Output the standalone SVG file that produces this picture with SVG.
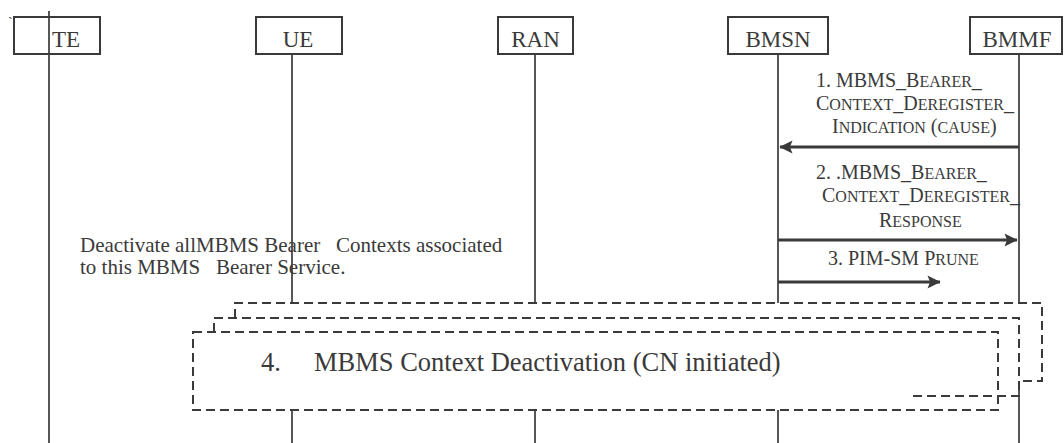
<svg xmlns="http://www.w3.org/2000/svg" width="1064" height="443" viewBox="0 0 1064 443" font-family="'Liberation Serif', 'Times New Roman', 'DejaVu Serif', serif">
<style>
.box{fill:#fff;stroke:#3a3a3a;stroke-width:2}
.life{stroke:#3a3a3a;stroke-width:1.7;fill:none}
.msg{stroke:#3a3a3a;stroke-width:3;fill:none}
.dash{stroke:#3a3a3a;stroke-width:2;fill:none;stroke-dasharray:9 5}
.lbl{font-size:23px;fill:#3a3a3a}
.sc{font-size:20px;fill:#3a3a3a}
.s{font-size:16px}
.note{font-size:21px;fill:#3a3a3a;white-space:pre}
.big{font-size:26.5px;fill:#3a3a3a;white-space:pre}
</style>
<defs>
<marker id="ah" viewBox="0 0 10 10" refX="9.5" refY="5" markerWidth="5" markerHeight="4.4" orient="auto" markerUnits="strokeWidth">
<path d="M0,0 L10,5 L0,10 L2,5 z" fill="#3a3a3a"/>
</marker>
</defs>
<rect width="1064" height="443" fill="#fff"/>
<g id="connectors">
<line class="life" x1="49" y1="11" x2="49" y2="443"/>
<line class="life" x1="292" y1="54" x2="292" y2="303"/>
<line class="life" x1="292" y1="410" x2="292" y2="443"/>
<line class="life" x1="535" y1="54" x2="535" y2="303"/>
<line class="life" x1="535" y1="410" x2="535" y2="443"/>
<line class="life" x1="778" y1="54" x2="778" y2="303"/>
<line class="life" x1="778" y1="410" x2="778" y2="443"/>
<line class="life" x1="1019" y1="54" x2="1019" y2="303"/>
<line class="life" x1="1019" y1="383" x2="1019" y2="443"/>
<line class="msg" x1="1019" y1="147" x2="780" y2="147" marker-end="url(#ah)"/>
<line class="msg" x1="778" y1="240" x2="1017" y2="240" marker-end="url(#ah)"/>
<line class="msg" x1="778" y1="282" x2="940" y2="282" marker-end="url(#ah)"/>
</g>
<g id="TE">
<rect class="box" x="14" y="17" width="86" height="37" style="fill:none"/>
<text class="lbl" x="52" y="47">TE</text>
<text class="lbl" x="8" y="27" style="font-size:14px">`</text>
</g>
<g id="UE">
<rect class="box" x="256" y="17" width="86" height="37"/>
<text class="lbl" x="298" y="47" text-anchor="middle">UE</text>
</g>
<g id="RAN">
<rect class="box" x="498" y="17" width="75" height="37"/>
<text class="lbl" x="535.5" y="47" text-anchor="middle">RAN</text>
</g>
<g id="BMSN">
<rect class="box" x="728" y="17" width="100" height="37"/>
<text class="lbl" x="778" y="47" text-anchor="middle">BMSN</text>
</g>
<g id="BMMF">
<rect class="box" x="970" y="17" width="92" height="37"/>
<text class="lbl" x="1017" y="47" text-anchor="middle">BMMF</text>
</g>
<g id="msg1">
<text class="sc" x="816" y="87">1. MBMS_B<tspan class="s">EARER</tspan>_</text>
<text class="sc" x="816" y="110">C<tspan class="s">ONTEXT</tspan>_D<tspan class="s">EREGISTER</tspan>_</text>
<text class="sc" x="832" y="133">I<tspan class="s">NDICATION</tspan> (<tspan class="s">CAUSE</tspan>)</text>
</g>
<g id="msg2">
<text class="sc" x="816" y="179">2. .MBMS_B<tspan class="s">EARER</tspan>_</text>
<text class="sc" x="822" y="202">C<tspan class="s">ONTEXT</tspan>_D<tspan class="s">EREGISTER</tspan>_</text>
<text class="sc" x="879" y="227">R<tspan class="s">ESPONSE</tspan></text>
</g>
<g id="msg3">
<text class="sc" x="828" y="265">3. PIM-SM P<tspan class="s">RUNE</tspan></text>
</g>
<g id="note">
<text class="note" x="80" y="252">Deactivate allMBMS Bearer   Contexts associated</text>
<text class="note" x="80" y="274">to this MBMS   Bearer Service.</text>
</g>
<g id="deactivation">
<path class="dash" d="M235,318 L235,303 L1042,303 L1042,381 L1019,381"/>
<path class="dash" d="M214,332 L214,318 L1019,318 L1019,396 L909,396"/>
<rect class="dash" x="193" y="332" width="805" height="78"/>
<text class="big" x="261" y="371">4.     MBMS Context Deactivation (CN initiated)</text>
</g>
</svg>
